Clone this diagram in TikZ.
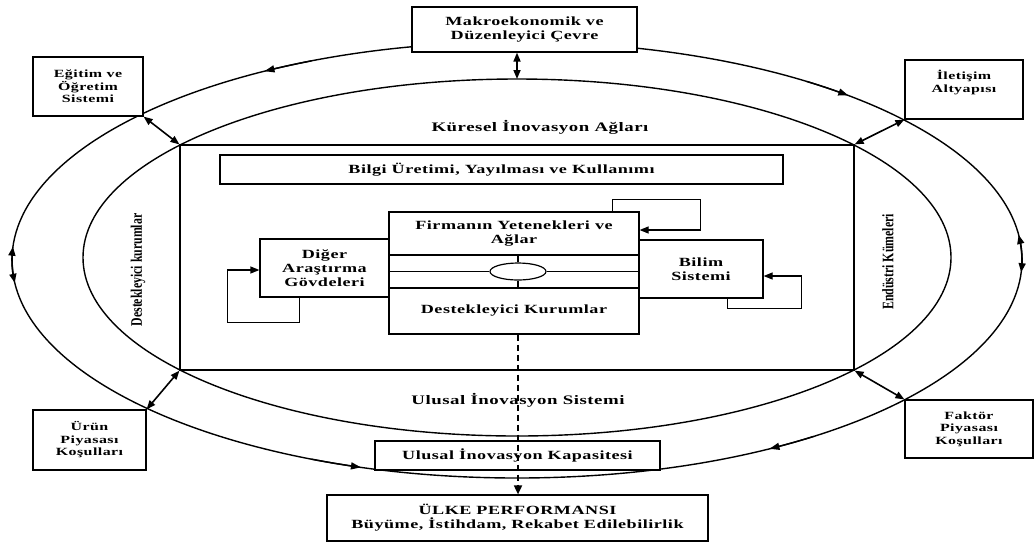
\documentclass[tikz,border=0pt]{standalone}
\usepackage{fontspec}
\setmainfont{Liberation Serif}
\newfontfamily\widefont{Liberation Serif}[FakeStretch=1.45,LetterSpace=4]
\newfontfamily\condfont{Liberation Serif}[FakeStretch=0.74]
\usetikzlibrary{arrows.meta,calc,shapes.geometric}
\begin{document}
\begin{tikzpicture}[x=1pt,y=-1pt,
  box/.style={draw, line width=1.2pt, fill=white, inner sep=0pt, align=center, font=\widefont\bfseries\fontsize{12.5}{14}\selectfont},
  sbox/.style={box, font=\widefont\bfseries\fontsize{11}{12.5}\selectfont},
  lbl/.style={inner sep=0pt, align=center, font=\widefont\bfseries\fontsize{13}{14}\selectfont},
  ring/.style={line width=1.4pt},
  tipf/.style={-{Triangle[length=10pt,width=7pt]}, line width=1.4pt},
  tipr/.style={{Triangle[length=10pt,width=7pt]}-, line width=1.4pt},
  dbl/.style={{Triangle[length=9pt,width=7pt]}-{Triangle[length=9pt,width=7pt]}, line width=1.6pt},
  arr/.style={-{Triangle[length=9pt,width=7pt]}, line width=1.2pt},
  rot/.style={rotate=90, inner sep=0pt, font=\condfont\bfseries\fontsize{16}{18}\selectfont}]

\useasboundingbox (0,0) rectangle (1035,542);

% ellipses
\draw[ring] (517,260) ellipse [x radius=505pt, y radius=218pt];
\draw[ring] (517,257.5) ellipse [x radius=434pt, y radius=178.5pt];

% arrow heads on the outer ring
\draw[tipr] plot[variable=\t, domain=240:246, samples=8] ({517+505*cos(\t)},{260+218*sin(\t)});
\draw[tipf] plot[variable=\t, domain=305:311, samples=8] ({517+505*cos(\t)},{260+218*sin(\t)});
\draw[dbl] plot[variable=\t, domain=174:183.5, samples=10] ({517+505*cos(\t)},{260+218*sin(\t)});
\draw[dbl] plot[variable=\t, domain=-6.6:3.2, samples=10] ({517+505*cos(\t)},{260+218*sin(\t)});
\draw[tipr] plot[variable=\t, domain=108:114, samples=8] ({517+505*cos(\t)},{260+218*sin(\t)});
\draw[tipf] plot[variable=\t, domain=54:60, samples=8] ({517+505*cos(\t)},{260+218*sin(\t)});

% outer boxes
\node[box, minimum width=225pt, minimum height=45pt] (makro) at (524.5,29.5) {Makroekonomik ve\\Düzenleyici Çevre};
\node[sbox, minimum width=110pt, minimum height=59pt] (egitim) at (88,86.5) {Eğitim ve\\Öğretim\\Sistemi};
\node[sbox, minimum width=118pt, minimum height=59pt] (iletisim) at (964,89.5) {İletişim\\Altyapısı\\\strut};
\node[sbox, minimum width=113pt, minimum height=60pt] (urun) at (89.5,440) {Ürün\\Piyasası\\Koşulları};
\node[sbox, minimum width=128pt, minimum height=58pt] (faktor) at (969,429) {Faktör\\Piyasası\\Koşulları};

% national system frame
\node[draw, line width=1.2pt, minimum width=674pt, minimum height=225pt, inner sep=0pt] (nis) at (517,257.5) {};
\node[lbl] (kuresel) at (540,127) {Küresel İnovasyon Ağları};
\node[lbl] (ulusal) at (518,400) {Ulusal İnovasyon Sistemi};
\node[box, minimum width=563pt, minimum height=29pt] (bilgi) at (501.5,169.5) {Bilgi Üretimi, Yayılması ve Kullanımı};

% central block
\node[box, minimum width=250pt, minimum height=43pt] (firm) at (514,233.5) {Firmanın Yetenekleri ve\\Ağlar};
\node[box, minimum width=250pt, minimum height=33pt] (mid) at (514,271.5) {};
\node[box, minimum width=250pt, minimum height=46pt] (dest) at (514,311) {Destekleyici Kurumlar};
\node[draw, ellipse, line width=1.2pt, minimum width=56pt, minimum height=17pt, inner sep=0pt] (oval) at (518,271.5) {};
\draw[line width=1.2pt] (mid.west |- oval) -- (oval.west);
\draw[line width=1.2pt] (oval.east) -- (mid.east |- oval);
\draw[line width=1.2pt] (oval.north) -- (oval |- mid.north);
\draw[line width=1.2pt] (oval.south) -- (oval |- mid.south);

\node[box, minimum width=129pt, minimum height=58pt] (diger) at (324.5,268) {Diğer\\Araştırma\\Gövdeleri};
\node[box, minimum width=124pt, minimum height=58pt] (bilim) at (701,269) {Bilim\\Sistemi};

% loops
\draw[arr] ($(diger.south west)+(40,0)$) -- ++(0,25) -| ($(diger.west)+(-32,2)$) -- ($(diger.west)+(0,2)$);
\draw[arr] ($(bilim.south west)+(89,0)$) -- ++(0,10) -| ($(bilim.east)+(38,7)$) -- ($(bilim.east)+(0,7)$);
\draw[arr] ($(firm.north east)+(-27,0)$) -- ++(0,-12) -| ($(firm.east)+(61,-3.5)$) -- ($(firm.east)+(0,-3.5)$);

% rotated labels
\node[rot] (dk) at (138,270) {Destekleyici kurumlar};
\node[rot] (ek) at (888,262) {Endüstri Kümeleri};

% lower boxes
\node[box, minimum width=285pt, minimum height=29pt] (kapasite) at (517.5,455.5) {Ulusal İnovasyon Kapasitesi};
\node[box, minimum width=381pt, minimum height=46pt] (ulke) at (517.5,518) {ÜLKE PERFORMANSI\\Büyüme, İstihdam, Rekabet Edilebilirlik};

% double arrows
\coordinate (e2top) at (517,79);
\draw[dbl] (makro.south -| e2top) -- (e2top);
\draw[dbl] (egitim.south east) -- (nis.north west);
\draw[dbl] (iletisim.south west) -- (nis.north east);
\draw[dbl] (urun.north east) -- (nis.south west);
\draw[dbl] (faktor.north west) -- (nis.south east);

% dashed arrow
\draw[line width=1.7pt, dash pattern=on 6pt off 4pt, -{Triangle[length=9pt,width=8pt]}] (oval |- dest.south) -- (oval |- ulke.north);
\end{tikzpicture}
\end{document}
